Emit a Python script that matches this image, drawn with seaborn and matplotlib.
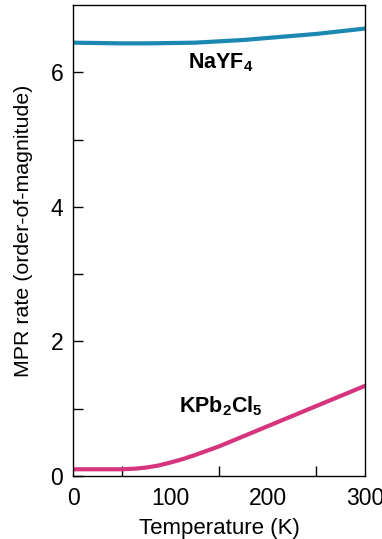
import matplotlib
matplotlib.use("Agg")
import matplotlib.pyplot as plt
import seaborn as sns
import pandas as pd

temperature = [0, 25, 50, 62.5, 75, 87.5, 100, 112.5, 125, 137.5, 150, 175, 200, 225, 250, 275, 300]
nayf4 = [6.44, 6.435, 6.43, 6.43, 6.43, 6.432, 6.435, 6.437, 6.44, 6.45, 6.46, 6.48, 6.51, 6.54, 6.57, 6.61, 6.65]
kpb2cl5 = [0.10, 0.10, 0.10, 0.108, 0.125, 0.155, 0.20, 0.25, 0.31, 0.375, 0.44, 0.59, 0.74, 0.89, 1.04, 1.19, 1.34]
x_ticks = [0, 100, 200, 300]
y_ticks = [0, 2, 4, 6]

sns.set_style("ticks")
plt.rcParams['font.family'] = ['Liberation Sans', 'DejaVu Sans']
plt.rcParams['mathtext.fontset'] = 'custom'
plt.rcParams['mathtext.rm'] = 'Liberation Sans'
plt.rcParams['mathtext.bf'] = 'Liberation Sans:bold'
plt.rcParams['text.color'] = 'black'
plt.rcParams['axes.labelcolor'] = 'black'

df = pd.DataFrame({"T": temperature * 2,
                   "rate": nayf4 + kpb2cl5,
                   "mat": ["NaYF4"] * len(temperature) + ["KPb2Cl5"] * len(temperature)})

fig = plt.figure(figsize=(3.82, 5.39), dpi=100)
ax = fig.add_axes([73/382, 1 - 476/539, (365-73)/382, (476-5)/539])
sns.lineplot(data=df, x="T", y="rate", hue="mat",
             palette={"NaYF4": "#1a88b0", "KPb2Cl5": "#d6347c"},
             linewidth=3.0, legend=False, ax=ax)

ax.set_xlim(0, 300)
ax.set_ylim(0, 7)
ax.set_xticks(x_ticks)
ax.set_xticks([50, 150, 250], minor=True)
ax.set_yticks(y_ticks)
ax.set_yticks([1, 3, 5], minor=True)
ax.tick_params(axis='both', which='both', direction='in', length=7, width=1, colors='black',
               labelsize=16.5, pad=5)
ax.tick_params(axis='x', which='major', length=0, pad=8)
ax.tick_params(axis='y', which='major', length=7, pad=7)
for s in ax.spines.values():
    s.set_linewidth(1.0)
    s.set_color('black')
    s.set_visible(True)
ax.set_xlabel("Temperature (K)", fontsize=16, labelpad=6)
ax.set_ylabel("MPR rate (order-of-magnitude)", fontsize=15.4)
ax.yaxis.set_label_coords(-0.137, 0.52)

ax.text(118, 6.06, r"NaYF$_\mathbf{4}$", fontsize=15.5, fontweight='bold', ha='left', va='baseline')
ax.text(109, 0.95, r"KPb$_\mathbf{2}$Cl$_\mathbf{5}$", fontsize=15.5, fontweight='bold', ha='left', va='baseline')

fig.savefig("out.png", dpi=100)
